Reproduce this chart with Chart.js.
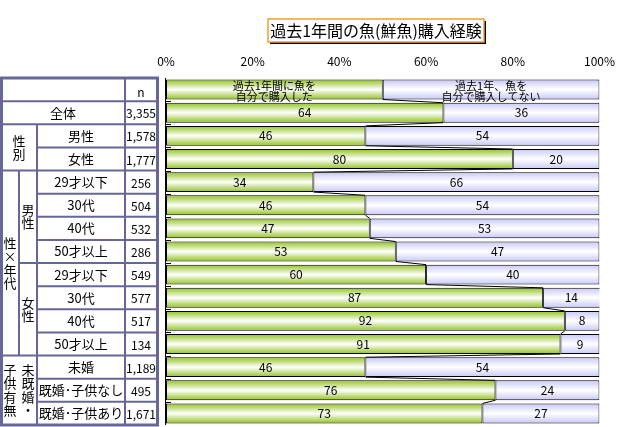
<!DOCTYPE html>
<html>
<head>
<meta charset="utf-8">
<script src="https://cdn.jsdelivr.net/npm/chart.js@4.4.1/dist/chart.umd.min.js"></script>
<style>
  body { margin: 0; background: #fff; }
  #wrap { width: 624px; height: 427px; position: relative; }
</style>
</head>
<body>
<div id="wrap"><canvas id="fish"></canvas></div>
<script>
// data
const categories = ["", "全体", "男性", "女性", "29才以下", "30代", "40代", "50才以上",
  "29才以下", "30代", "40代", "50才以上", "未婚", "既婚･子供なし", "既婚･子供あり"];
const nValues = ["", "3,355", "1,578", "1,777", "256", "504", "532", "286",
  "549", "577", "517", "134", "1,189", "495", "1,671"];
const seriesNames = [["過去1年間に魚を", "自分で購入した"], ["過去1年、魚を", "自分で購入してない"]];
const legendShare = [50, 50];
const bought = [64, 46, 80, 34, 46, 47, 53, 60, 87, 92, 91, 46, 76, 73];
const notBought = [36, 54, 20, 66, 54, 53, 47, 40, 14, 8, 9, 54, 24, 27];
const xTicks = [0, 20, 40, 60, 80, 100];
const groups = [
  { text: "性別", rows: [2, 3], x: 19 },
  { text: "性×年代", rows: [4, 11], x: 10 },
  { text: "男性", rows: [4, 7], x: 28 },
  { text: "女性", rows: [8, 11], x: 28 },
  { text: "子供有無", rows: [12, 14], x: 10 },
  { text: "未既婚・", rows: [12, 14], x: 28 },
];

const FONT = '"Noto Sans CJK JP", "Noto Sans", sans-serif';
const BAR_PCT = 0.86;

function barFill(edge, mid) {
  return (c) => {
    const y = c.chart.scales.y;
    if (c.type !== "data" || !y) return edge;
    const cy = y.getPixelForValue(c.dataIndex);
    const h = (y.bottom - y.top) / categories.length * BAR_PCT;
    if (!isFinite(cy) || !isFinite(h) || h <= 0) return edge;
    const g = c.chart.ctx.createLinearGradient(0, cy - h / 2, 0, cy + h / 2);
    g.addColorStop(0, edge);
    g.addColorStop(0.5, mid);
    g.addColorStop(1, edge);
    return g;
  };
}

const extras = {
  id: "extras",
  afterDatasetsDraw(chart) {
    const ctx = chart.ctx;
    const y = chart.scales.y;
    const area = chart.chartArea;
    const band = (y.bottom - y.top) / categories.length;
    const th = band * BAR_PCT;
    const g = chart.getDatasetMeta(0).data;
    const b = chart.getDatasetMeta(1).data;
    ctx.save();

    // series lines
    ctx.strokeStyle = "#000";
    ctx.lineWidth = 1;
    for (let i = 0; i < categories.length - 1; i++) {
      ctx.beginPath();
      ctx.moveTo(g[i].x, g[i].y + th / 2);
      ctx.lineTo(g[i + 1].x, g[i + 1].y - th / 2);
      ctx.stroke();
    }

    // axis line + small marks
    ctx.beginPath();
    ctx.moveTo(area.left - 0.5, area.top);
    ctx.lineTo(area.left - 0.5, area.bottom);
    ctx.stroke();
    for (let i = 1; i < categories.length; i++) {
      const yy = Math.round(y.top + i * band) + 0.5;
      ctx.beginPath();
      ctx.moveTo(area.left, yy);
      ctx.lineTo(area.left + 5, yy);
      ctx.stroke();
    }

    // value labels
    ctx.fillStyle = "#000";
    ctx.textAlign = "center";
    ctx.textBaseline = "middle";
    ctx.font = "12px " + FONT;
    for (let i = 1; i < categories.length; i++) {
      ctx.fillText(bought[i - 1], (g[i].base + g[i].x) / 2, g[i].y);
      const right = Math.min(b[i].x, area.right);
      ctx.fillText(notBought[i - 1], (b[i].base + right) / 2, b[i].y);
    }
    // legend row text
    ctx.font = "11px " + FONT;
    [g[0], b[0]].forEach((el, k) => {
      const cx = (el.base + el.x) / 2;
      ctx.fillText(seriesNames[k][0], cx, el.y - 4);
      ctx.fillText(seriesNames[k][1], cx, el.y + 7);
    });
    ctx.restore();
  },
  afterDraw(chart) {
    const ctx = chart.ctx;
    const y = chart.scales.y;
    const band = (y.bottom - y.top) / categories.length;
    const rowTop = (i) => y.top + i * band;
    const mid = (i) => y.top + (i + 0.5) * band;
    ctx.save();

    // title box
    ctx.fillStyle = "#000";
    ctx.fillRect(270, 21, 216, 23);
    ctx.fillStyle = "#fff";
    ctx.fillRect(268, 19, 216, 23);
    ctx.strokeStyle = "#f0a030";
    ctx.lineWidth = 1.5;
    ctx.strokeRect(268, 19, 216, 23);
    ctx.fillStyle = "#000";
    ctx.font = "16px " + FONT;
    ctx.textAlign = "center";
    ctx.textBaseline = "middle";
    ctx.fillText("過去1年間の魚(鮮魚)購入経験", 376, 31);

    // table lines
    const top = rowTop(0), bot = y.bottom;
    ctx.strokeStyle = "#666699";
    ctx.lineWidth = 2;
    const line = (x1, y1, x2, y2) => {
      ctx.beginPath(); ctx.moveTo(x1, y1); ctx.lineTo(x2, y2); ctx.stroke();
    };
    for (let i = 1; i < categories.length; i++) {
      let x1 = 37;
      if (i === 1 || i === 2 || i === 4 || i === 12) x1 = 1;
      if (i === 8) x1 = 19;
      line(x1, rowTop(i), 157, rowTop(i));
    }
    line(125, top, 125, bot);
    line(37, rowTop(2), 37, bot);
    line(19, rowTop(4), 19, rowTop(12));
    ctx.lineWidth = 3;
    ctx.strokeRect(1.5, top, 156, bot - top);

    // table text
    ctx.fillStyle = "#000";
    ctx.font = "13px " + FONT;
    for (let i = 1; i < categories.length; i++) {
      ctx.fillText(categories[i], i === 1 ? 63 : 81, mid(i));
    }
    ctx.font = "12px " + FONT;
    for (let i = 1; i < categories.length; i++) {
      ctx.fillText(nValues[i], 141, mid(i) + 1);
    }
    ctx.fillText("n", 141, rowTop(0) + 14);
    ctx.font = "13px " + FONT;
    groups.forEach((gr) => {
      const cy = (rowTop(gr.rows[0]) + rowTop(gr.rows[1] + 1)) / 2;
      const chars = Array.from(gr.text);
      chars.forEach((ch, k) => {
        ctx.fillText(ch, gr.x, cy + (k - (chars.length - 1) / 2) * 13.5);
      });
    });
    ctx.restore();
  },
};

new Chart(document.getElementById("fish"), {
  type: "bar",
  data: {
    labels: categories,
    datasets: [
      {
        label: seriesNames[0].join(""),
        data: [legendShare[0], ...bought],
        backgroundColor: barFill("#92c21e", "#ffffff"),
        borderColor: "#000",
        borderWidth: 1,
        borderSkipped: false,
        barPercentage: BAR_PCT,
        categoryPercentage: 1,
      },
      {
        label: seriesNames[1].join(""),
        data: [legendShare[1], ...notBought],
        backgroundColor: barFill("#c8c8f8", "#ffffff"),
        borderColor: "#000",
        borderWidth: 1,
        borderSkipped: false,
        barPercentage: BAR_PCT,
        categoryPercentage: 1,
      },
    ],
  },
  options: {
    indexAxis: "y",
    responsive: true,
    maintainAspectRatio: false,
    animation: false,
    layout: { padding: { left: 166, right: 20, top: 0, bottom: 2 } },
    scales: {
      x: {
        position: "top",
        stacked: true,
        min: 0,
        max: 100,
        afterBuildTicks: (axis) => {
          axis.ticks = xTicks.map((v) => ({ value: v }));
        },
        afterFit: (axis) => { axis.height = 78; },
        grid: { display: false, drawTicks: false },
        border: { display: false },
        ticks: {
          padding: 9,
          color: "#000",
          font: { size: 12, family: FONT },
          callback: (v) => v + "%",
        },
      },
      y: {
        stacked: true,
        display: false,
      },
    },
    plugins: {
      legend: { display: false },
      tooltip: { enabled: false },
    },
  },
  plugins: [extras],
});
</script>
</body>
</html>
